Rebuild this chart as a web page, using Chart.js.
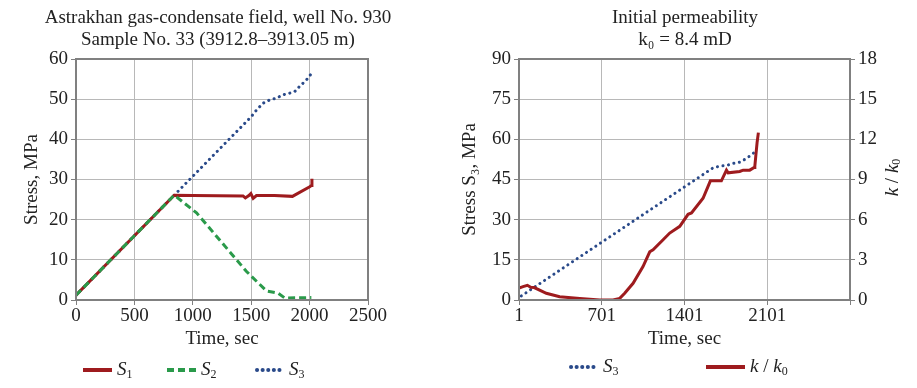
<!DOCTYPE html>
<html><head><meta charset="utf-8">
<script src="https://cdn.jsdelivr.net/npm/chart.js@4.4.1/dist/chart.umd.min.js"></script>
<style>
html,body{margin:0;padding:0;background:#fff;width:917px;height:388px;overflow:hidden;font-family:"Liberation Serif",serif;color:#222;}
#w1{position:absolute;left:0;top:0;width:440px;height:388px;}
#w2{position:absolute;left:440px;top:0;width:477px;height:388px;}
.lg{position:absolute;display:flex;align-items:center;font-size:19px;height:22px;}
.lg svg{display:block;}
.lg span{margin-left:5px;white-space:nowrap;}
.lg i{font-style:italic;}
.lg sub{font-size:12px;vertical-align:-3px;font-style:normal;}
</style></head><body>
<div id="w1"><canvas id="c1" width="440" height="388"></canvas></div>
<div id="w2"><canvas id="c2" width="477" height="388"></canvas></div>
<div id="legends"></div>
<script>
// ---------- Left chart data ----------
const s1Time = [0, 841, 1000, 1430, 1450, 1480, 1497, 1517, 1545, 1700, 1853, 2001, 2015, 2020];
const s1Val  = [1.2, 26.1, 26.0, 25.9, 25.4, 26.0, 26.5, 25.3, 26.0, 26.0, 25.8, 28.2, 28.5, 30.2];
const s2Time = [0, 841, 1032, 1460, 1631, 1730, 1787, 2015];
const s2Val  = [1.2, 26.1, 21.7, 7.1, 2.25, 1.7, 0.5, 0.6];
const s3Time = [0, 841, 1502, 1545, 1602, 1659, 1716, 1773, 1830, 1873, 1915, 1973, 2024];
const s3Val  = [1.2, 26.1, 45.7, 47.3, 49.0, 49.8, 50.25, 51.1, 51.5, 51.9, 53.2, 54.8, 56.7];
const leftTitle = ['Astrakhan gas-condensate field, well No. 930', 'Sample No. 33 (3912.8\u20133913.05 m)'];

// ---------- Right chart data ----------
const r3Time = [20, 1644, 1700, 1760, 1813, 1869, 1911, 1953, 1996];
const r3Val  = [1.5, 49.4, 50.0, 50.3, 51.0, 51.5, 52.5, 53.75, 55.25];
const kTime = [1, 35, 72, 100, 130, 232, 345, 515, 684, 797, 853, 895, 966, 1050, 1107, 1135, 1220, 1276, 1361, 1431, 1460, 1558, 1620, 1713, 1756, 1770, 1868, 1897, 1953, 1990, 1996, 2004, 2015, 2026];
const kVal  = [0.88, 1.0, 1.1, 0.95, 0.93, 0.5, 0.25, 0.12, 0.0, 0.0, 0.12, 0.5, 1.25, 2.5, 3.6, 3.75, 4.5, 5.0, 5.5, 6.4, 6.5, 7.6, 8.9, 8.9, 9.7, 9.5, 9.6, 9.7, 9.7, 9.9, 10.0, 10.75, 11.75, 12.5];
const rightTitle = ['Initial permeability', 'k\u2080 = 8.4 mD'];
const rightXTicks = [1, 701, 1401, 2101, 2801];

const RED = '#9e1b1e', GREEN = '#2a9a4a', BLUE = '#2a4a8a';
const GRID = '#b8b8b8', AXIS = '#808080', TXT = '#222';
const FAM = '"Liberation Serif", "DejaVu Serif", serif';

function pts(xs, ys) { return xs.map((x, i) => ({x: x, y: ys[i]})); }

const boxPlugin = {
  id: 'box',
  afterDraw(chart) {
    const a = chart.chartArea, ctx = chart.ctx;
    ctx.save();
    ctx.strokeStyle = AXIS; ctx.lineWidth = 2;
    ctx.strokeRect(a.left, a.top, a.right - a.left, a.bottom - a.top);
    ctx.restore();
  }
};

// rotated (bottom-to-top) rich title for the right-hand axis: k / k0
const kAxisTitlePlugin = {
  id: 'kAxisTitle',
  afterDraw(chart) {
    const ctx = chart.ctx, sc = chart.scales.y1, a = chart.chartArea;
    const parts = [
      {t: 'k', f: 'italic 19px ' + FAM, dy: 0},
      {t: ' / ', f: '19px ' + FAM, dy: 0},
      {t: 'k', f: 'italic 19px ' + FAM, dy: 0},
      {t: '0', f: '12px ' + FAM, dy: 4}
    ];
    ctx.save();
    let total = 0;
    parts.forEach(p => { ctx.font = p.f; p.w = ctx.measureText(p.t).width; total += p.w; });
    ctx.translate(sc.right - 24, (a.top + a.bottom) / 2 - 2);
    ctx.rotate(-Math.PI / 2);
    ctx.fillStyle = TXT; ctx.textBaseline = 'middle'; ctx.textAlign = 'left';
    let x = -total / 2;
    parts.forEach(p => { ctx.font = p.f; ctx.fillText(p.t, x, p.dy); x += p.w; });
    ctx.restore();
  }
};

const tickFont = {family: FAM, size: 19};
const titleFont = {family: FAM, size: 19, weight: 'normal', lineHeight: 1.15};
const axTitleFont = {family: FAM, size: 19, weight: 'normal', lineHeight: 1.2};

function axisCommon(extra) {
  return Object.assign({
    grid: {color: GRID, lineWidth: 1, tickLength: 5, tickColor: AXIS},
    border: {color: AXIS, width: 2},
    ticks: {font: tickFont, color: TXT, padding: 2}
  }, extra);
}

Chart.defaults.animation = false;
Chart.defaults.font.family = FAM;

const ds1 = [
  {label: 'S1', data: pts(s1Time, s1Val), borderColor: RED, borderWidth: 3, pointRadius: 0, order: 2, tension: 0},
  {label: 'S2', data: pts(s2Time, s2Val), borderColor: GREEN, borderWidth: 3, borderDash: [7, 4], pointRadius: 0, order: 1, tension: 0},
  {label: 'S3', data: pts(s3Time, s3Val), borderColor: BLUE, borderWidth: 3, borderDash: [0.1, 5.5], borderCapStyle: 'round', pointRadius: 0, order: 3, tension: 0}
];

new Chart(document.getElementById('c1'), {
  type: 'line',
  data: {datasets: ds1},
  options: {
    responsive: false, animation: false,
    layout: {padding: {left: 0, right: 4, top: 0, bottom: 38}},
    plugins: {
      legend: {display: false}, tooltip: {enabled: false},
      title: {display: true, text: leftTitle, font: titleFont, color: TXT, padding: {top: 7, bottom: 8.3}}
    },
    scales: {
      x: axisCommon({type: 'linear', min: 0, max: 2500,
        ticks: {font: tickFont, color: TXT, padding: 0, stepSize: 500, maxRotation: 0, callback: v => String(v)},
        title: {display: true, text: 'Time, sec', font: axTitleFont, color: TXT, padding: {top: 0, bottom: 0}},
        afterFit: s => { s.height = 50; }}),
      y: axisCommon({min: 0, max: 60,
        ticks: {font: tickFont, color: TXT, padding: 3, stepSize: 10},
        title: {display: true, text: 'Stress, MPa', font: axTitleFont, color: TXT, padding: {top: 21, bottom: 0}},
        afterFit: s => { s.width = 76; }}),
      yPad: {position: 'right', display: true, grid: {display: false}, border: {display: false},
        ticks: {display: false}, afterFit: s => { s.width = 68; }}
    }
  },
  plugins: [boxPlugin]
});

const ds2 = [
  {label: 'S3', data: pts(r3Time, r3Val), yAxisID: 'y', borderColor: BLUE, borderWidth: 3, borderDash: [0.1, 5.5], borderCapStyle: 'round', pointRadius: 0, order: 2, tension: 0},
  {label: 'k / k0', data: pts(kTime, kVal), yAxisID: 'y1', borderColor: RED, borderWidth: 3, pointRadius: 0, order: 1, tension: 0}
];

new Chart(document.getElementById('c2'), {
  type: 'line',
  data: {datasets: ds2},
  options: {
    responsive: false, animation: false,
    layout: {padding: {left: 13, right: 0, top: 0, bottom: 38}},
    plugins: {
      legend: {display: false}, tooltip: {enabled: false},
      title: {display: true, text: rightTitle, font: titleFont, color: TXT, padding: {top: 7, bottom: 8.3}}
    },
    scales: {
      x: axisCommon({type: 'linear', min: 1, max: 2801,
        ticks: {font: tickFont, color: TXT, padding: 0, maxRotation: 0, callback: v => (v === 2801 ? '' : String(v))},
        afterBuildTicks: s => { s.ticks = rightXTicks.map(v => ({value: v})); },
        title: {display: true, text: 'Time, sec', font: axTitleFont, color: TXT, padding: {top: 0, bottom: 0}},
        afterFit: s => { s.height = 50; }}),
      y: axisCommon({min: 0, max: 90,
        ticks: {font: tickFont, color: TXT, padding: 3, stepSize: 15},
        title: {display: true, text: 'Stress S\u2083, MPa', font: axTitleFont, color: TXT, padding: {top: 6, bottom: 0}},
        afterFit: s => { s.width = 66; }}),
      y1: axisCommon({position: 'right', min: 0, max: 18,
        grid: {drawOnChartArea: false, tickLength: 5, tickColor: AXIS, color: GRID},
        ticks: {font: tickFont, color: TXT, padding: 3, stepSize: 3},
        title: {display: false},
        afterFit: s => { s.width = 67; }})
    }
  },
  plugins: [boxPlugin, kAxisTitlePlugin]
});

// ---------- HTML legends built from dataset styles ----------
const legendItems = [
  {ds: ds1[0], html: '<i>S</i><sub>1</sub>', left: 83, top: 359, w: 29},
  {ds: ds1[1], html: '<i>S</i><sub>2</sub>', left: 167, top: 359, w: 29},
  {ds: ds1[2], html: '<i>S</i><sub>3</sub>', left: 255, top: 359, w: 29},
  {ds: ds2[0], html: '<i>S</i><sub>3</sub>', left: 569, top: 356, w: 29},
  {ds: ds2[1], html: '<i>k</i> / <i>k</i><sub>0</sub>', left: 706, top: 356, w: 39}
];
const lgRoot = document.getElementById('legends');
legendItems.forEach(it => {
  const d = document.createElement('div');
  d.className = 'lg';
  d.style.left = it.left + 'px'; d.style.top = it.top + 'px';
  const dash = it.ds.borderDash ? it.ds.borderDash.join(' ') : 'none';
  const cap = it.ds.borderCapStyle || 'butt';
  d.innerHTML = '<svg width="' + it.w + '" height="10"><line x1="' + (cap === 'round' ? 2 : 0) + '" y1="5" x2="' + it.w + '" y2="5" stroke="' + it.ds.borderColor +
    '" stroke-width="4" stroke-dasharray="' + dash + '" stroke-linecap="' + cap + '"/></svg><span>' + it.html + '</span>';
  lgRoot.appendChild(d);
});
</script>
</body></html>
